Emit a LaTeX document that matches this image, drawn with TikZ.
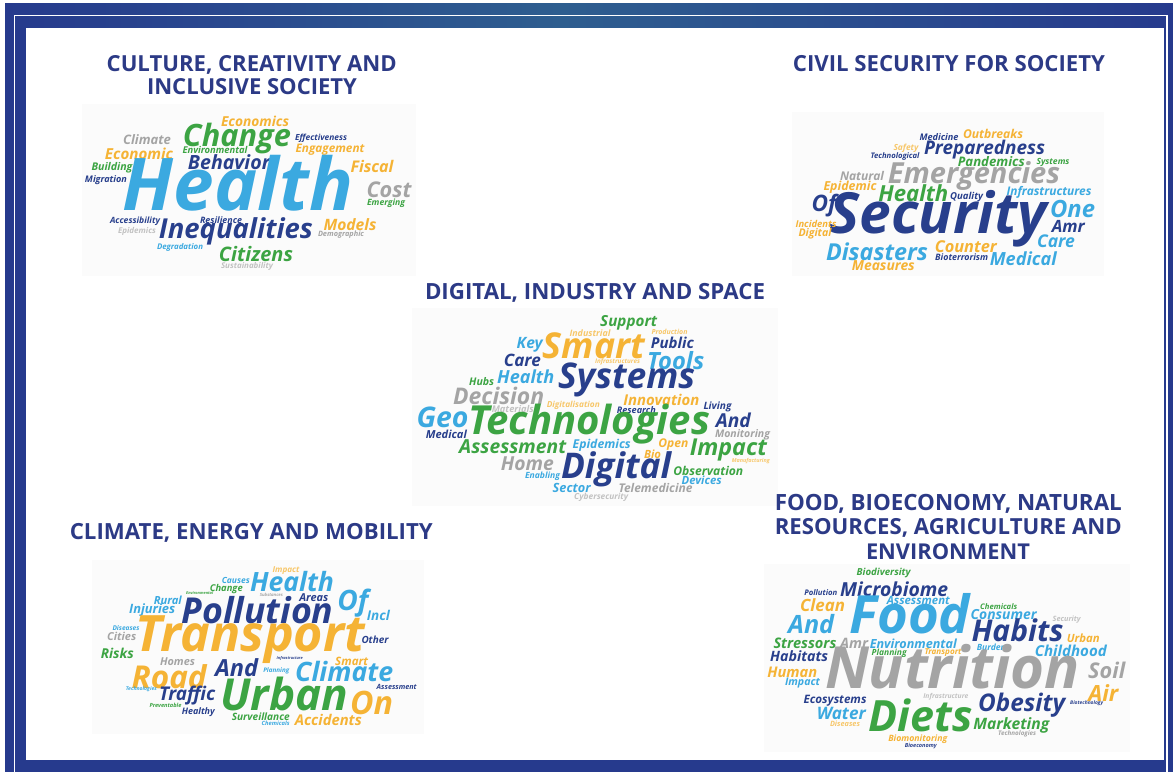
\documentclass[tikz,border=0pt]{standalone}
\usepackage{fontspec}
\usepackage{graphicx}
\newfontfamily\osans{Open Sans}
\definecolor{framec}{HTML}{263A8D}
\definecolor{framet}{HTML}{2E5E8F}
\definecolor{titlec}{HTML}{2C3A86}
\definecolor{cnavy}{HTML}{283F8C}
\definecolor{cblue}{HTML}{3BA9E0}
\definecolor{cgreen}{HTML}{3CA443}
\definecolor{corange}{HTML}{F5B335}
\definecolor{clorange}{HTML}{F7C76A}
\definecolor{cgray}{HTML}{A4A4A4}
\definecolor{clgray}{HTML}{C2C2C2}
\definecolor{cloudbg}{HTML}{FBFBFB}
\tikzset{
  cword/.style={inner sep=0pt,outer sep=0pt,anchor=center,font=\osans\bfseries\itshape},
  ctitle/.style={inner sep=0pt,outer sep=0pt,anchor=center,text=titlec,font=\osans\bfseries},
  cloudbox/.style={fill=cloudbg,draw=none},
}
% name, x, y, width, colour, word
\newcommand\cw[6]{\node[cword,text=#5] (#1) at (#2,#3) {\resizebox{#4pt}{!}{#6}};}
\newcommand\ct[5]{\node[ctitle] (#1) at (#2,#3) {\resizebox{#4pt}{!}{#5}};}
\begin{document}
\begin{tikzpicture}[x=1pt,y=-1pt]
\useasboundingbox (0,0) rectangle (1173,772);
% frame
\fill[framec] (5,3) rectangle (1173,772);
\shade[left color=framec,right color=framet] (5,3) rectangle (560,28);
\shade[left color=framet,right color=framec] (560,3) rectangle (1173,28);
\draw[white,line width=1.4pt] (14.5,772) -- (14.5,15.5) -- (1167,15.5) -- (1167,772);
\fill[white] (26,28) rectangle (1164,760);
% cloud backgrounds
\fill[cloudbox] (82,104) rectangle (416,276);
\fill[cloudbox] (792,112) rectangle (1104,276);
\fill[cloudbox] (412,308) rectangle (778,506);
\fill[cloudbox] (92,560) rectangle (424,734);
\fill[cloudbox] (764,564) rectangle (1130,752);

% ---------- Cloud 1 ----------
\ct{t1a}{251.7}{64.5}{290}{CULTURE, CREATIVITY AND}
\ct{t1b}{252}{87}{210}{INCLUSIVE SOCIETY}
\cw{a1}{255}{121}{68}{corange}{Economics}
\cw{a2}{237}{139}{108}{cgreen}{Change}
\cw{a3}{147}{140}{48}{cgray}{Climate}
\cw{a4}{321}{138.5}{52}{cnavy}{Effectiveness}
\cw{a5}{215}{150.3}{65}{cgreen}{Environmental}
\cw{a6}{330}{149.3}{69}{corange}{Engagement}
\cw{a7}{139}{154.3}{68}{corange}{Economic}
\cw{a8}{229}{162.5}{82}{cnavy}{Behavior}
\cw{a9}{372}{166}{43}{corange}{Fiscal}
\cw{a10}{112}{168}{41}{cgreen}{Building}
\cw{a11}{106}{180}{42}{cnavy}{Migration}
\cw{a12}{238}{183.7}{230}{cblue}{Health}
\cw{a13}{389}{190}{45}{cgray}{Cost}
\cw{a14}{386}{203}{38}{cgreen}{Emerging}
\cw{a15}{135}{221.7}{50}{cnavy}{Accessibility}
\cw{a16}{221}{220.5}{42}{cnavy}{Resilience}
\cw{a17}{350}{225}{53}{corange}{Models}
\cw{a18}{137}{231.7}{38}{clgray}{Epidemics}
\cw{a19}{236}{231.7}{154}{cnavy}{Inequalities}
\cw{a20}{341}{235}{46}{cgray}{Demographic}
\cw{a21}{180}{247.8}{46}{cblue}{Degradation}
\cw{a22}{256}{253.8}{74}{cgreen}{Citizens}
\cw{a23}{247}{266.3}{52}{clgray}{Sustainability}

% ---------- Cloud 2 ----------
\ct{t2}{949}{64}{312}{CIVIL SECURITY FOR SOCIETY}
\cw{b1}{939}{136.7}{39}{cnavy}{Medicine}
\cw{b2}{993}{133.7}{60}{corange}{Outbreaks}
\cw{b3}{906}{148}{25}{clorange}{Safety}
\cw{b4}{984.5}{149.2}{121}{cnavy}{Preparedness}
\cw{b5}{895}{156.7}{49}{cnavy}{Technological}
\cw{b6}{991.3}{161.3}{67}{cgreen}{Pandemics}
\cw{b7}{1053}{162.2}{33}{cgreen}{Systems}
\cw{b8}{862}{176.3}{44}{cgray}{Natural}
\cw{b9}{974}{176.3}{172}{cgray}{Emergencies}
\cw{b10}{850}{187.5}{53}{corange}{Epidemic}
\cw{b11}{913.3}{193.3}{70}{cgreen}{Health}
\cw{b12}{966.7}{197.5}{33}{cnavy}{Quality}
\cw{b13}{1049}{192.5}{85}{cblue}{Infrastructures}
\cw{b14}{824}{205.8}{25}{cnavy}{Of}
\cw{b15}{938.3}{219.2}{217}{cnavy}{Security}
\cw{b16}{1072.5}{209.2}{45}{cblue}{One}
\cw{b17}{816}{224.2}{41}{corange}{Incidents}
\cw{b18}{815}{233.3}{33}{corange}{Digital}
\cw{b19}{1068.3}{226.7}{33}{cnavy}{Amr}
\cw{b20}{1056}{240.8}{38}{cblue}{Care}
\cw{b21}{877}{251.7}{102}{cblue}{Disasters}
\cw{b22}{965.8}{246.7}{62}{corange}{Counter}
\cw{b23}{961.7}{257}{53}{cnavy}{Bioterrorism}
\cw{b24}{1023.3}{258.3}{67}{cblue}{Medical}
\cw{b25}{883.3}{265.8}{63}{corange}{Measures}

% ---------- Cloud 3 ----------
\ct{t3}{595}{293.3}{340}{DIGITAL, INDUSTRY AND SPACE}
\cw{c1}{628.7}{323.3}{57}{cgreen}{Support}
\cw{c2}{590}{333.3}{41}{clorange}{Industrial}
\cw{c3}{669.5}{332.2}{36}{clorange}{Production}
\cw{c4}{529.7}{345}{26}{cblue}{Key}
\cw{c5}{594}{345.8}{102}{corange}{Smart}
\cw{c6}{672.3}{342.5}{43}{cnavy}{Public}
\cw{c7}{522.3}{360.8}{37}{cnavy}{Care}
\cw{c8}{617.5}{362.2}{45}{clorange}{Infrastructures}
\cw{c9}{675.7}{360.5}{57}{cblue}{Tools}
\cw{c10}{481.7}{381.3}{25}{cgreen}{Hubs}
\cw{c11}{525.7}{376.7}{57}{cblue}{Health}
\cw{c12}{626.7}{380}{137}{cnavy}{Systems}
\cw{c13}{498.7}{395.8}{91}{cgray}{Decision}
\cw{c14}{661.3}{399.7}{76}{corange}{Innovation}
\cw{c15}{512.8}{409.3}{42}{clgray}{Materials}
\cw{c16}{573.3}{405.5}{53}{clorange}{Digitalisation}
\cw{c17}{636.3}{410}{39}{cnavy}{Research}
\cw{c18}{717.5}{407.2}{28}{cnavy}{Living}
\cw{c19}{442.5}{417.5}{52}{cblue}{Geo}
\cw{c20}{589}{424.2}{242}{cgreen}{Technologies}
\cw{c21}{733.3}{420.8}{35}{cnavy}{And}
\cw{c22}{446.3}{434.7}{41}{cnavy}{Medical}
\cw{c23}{742.5}{435}{55}{cgray}{Monitoring}
\cw{c24}{512.7}{446.7}{107}{cgreen}{Assessment}
\cw{c25}{601.7}{445.5}{58}{cblue}{Epidemics}
\cw{c26}{673.3}{445}{30}{corange}{Open}
\cw{c27}{728.3}{449.7}{77}{cgreen}{Impact}
\cw{c28}{652.5}{454.5}{17}{corange}{Bio}
\cw{c29}{750.8}{461.2}{38}{clorange}{Manufacturing}
\cw{c30}{527.3}{463.3}{53}{cgray}{Home}
\cw{c31}{616}{469.3}{110}{cnavy}{Digital}
\cw{c32}{708.3}{470.5}{70}{cgreen}{Observation}
\cw{c33}{542.5}{475.8}{35}{cblue}{Enabling}
\cw{c34}{701.7}{480}{40}{cblue}{Devices}
\cw{c35}{571.7}{488.3}{38}{cblue}{Sector}
\cw{c36}{655.5}{487.5}{74}{cgray}{Telemedicine}
\cw{c37}{601.2}{497.5}{54}{clgray}{Cybersecurity}

% ---------- Cloud 4 ----------
\ct{t4}{251.3}{532.5}{363}{CLIMATE, ENERGY AND MOBILITY}
\cw{d1}{286}{570.3}{27}{clorange}{Impact}
\cw{d2}{235.8}{580.5}{28}{cblue}{Causes}
\cw{d3}{292}{581.7}{84}{cblue}{Health}
\cw{d4}{226.3}{588.7}{33}{cgreen}{Change}
\cw{d5}{199.7}{593.3}{27}{cgreen}{Environmental}
\cw{d6}{271.3}{594.5}{23}{cgray}{Substances}
\cw{d7}{313.8}{597.7}{29}{cnavy}{Areas}
\cw{d8}{352.8}{603}{31}{cblue}{Of}
\cw{d9}{167.8}{600}{28}{cblue}{Rural}
\cw{d10}{152.2}{610.3}{46}{cblue}{Injuries}
\cw{d11}{257.5}{610}{152}{cnavy}{Pollution}
\cw{d12}{378.3}{615.8}{23}{cblue}{Incl}
\cw{d13}{126}{628.3}{27}{cblue}{Diseases}
\cw{d14}{121.7}{636.7}{29}{cgray}{Cities}
\cw{d15}{250.5}{639.2}{229}{corange}{Transport}
\cw{d16}{375}{639.5}{27}{cnavy}{Other}
\cw{d17}{117.3}{653}{33}{cgreen}{Risks}
\cw{d18}{177.5}{661.3}{35}{cgray}{Homes}
\cw{d19}{289.7}{658.8}{26}{cnavy}{Infrastructure}
\cw{d20}{351.7}{661.2}{33}{corange}{Smart}
\cw{d21}{169.2}{676.7}{75}{corange}{Road}
\cw{d22}{236.7}{667.5}{43}{cnavy}{And}
\cw{d23}{276.3}{671.2}{26}{cblue}{Planning}
\cw{d24}{344.2}{671.7}{98}{cblue}{Climate}
\cw{d25}{141.3}{688.8}{31}{cblue}{Technologies}
\cw{d26}{396.7}{686.7}{40}{cnavy}{Assessment}
\cw{d27}{187.2}{695.8}{56}{cnavy}{Traffic}
\cw{d28}{284.2}{694.2}{128}{cgreen}{Urban}
\cw{d29}{371.7}{702.5}{43}{corange}{On}
\cw{d30}{165.5}{705.8}{32}{cgreen}{Preventable}
\cw{d31}{198.3}{712}{33}{cnavy}{Healthy}
\cw{d32}{260.8}{716.7}{58}{cgreen}{Surveillance}
\cw{d33}{275.5}{723}{28}{cblue}{Chemicals}
\cw{d34}{328.3}{720}{67}{corange}{Accidents}

% ---------- Cloud 5 ----------
\ct{t5a}{948.3}{504.2}{347}{FOOD, BIOECONOMY, NATURAL}
\ct{t5b}{948.3}{527.5}{347}{RESOURCES, AGRICULTURE AND}
\ct{t5c}{948}{551.3}{164}{ENVIRONMENT}
\cw{e1}{883.7}{572.8}{54}{cgreen}{Biodiversity}
\cw{e2}{820.8}{593}{33}{cnavy}{Pollution}
\cw{e3}{894.2}{589.2}{108}{cnavy}{Microbiome}
\cw{e4}{918.3}{600.5}{63}{cblue}{Assessment}
\cw{e5}{822.5}{605}{45}{corange}{Clean}
\cw{e6}{909.7}{613.3}{121}{cblue}{Food}
\cw{e7}{998.7}{606.3}{37}{cgreen}{Chemicals}
\cw{e8}{1003.7}{614.2}{66}{cblue}{Consumer}
\cw{e9}{1066.7}{620}{28}{clgray}{Security}
\cw{e10}{811.2}{624.2}{46}{cblue}{And}
\cw{e11}{1017.5}{630}{92}{cnavy}{Habits}
\cw{e12}{1083.3}{638.7}{33}{corange}{Urban}
\cw{e13}{805}{643}{63}{cgreen}{Stressors}
\cw{e14}{854.2}{643.3}{28}{cgray}{Amr}
\cw{e15}{913.3}{643.5}{87}{cblue}{Environmental}
\cw{e16}{991.3}{647.5}{29}{cblue}{Burden}
\cw{e17}{1070.8}{650.8}{72}{cblue}{Childhood}
\cw{e18}{889.2}{653.3}{35}{cgreen}{Planning}
\cw{e19}{943}{653}{37}{corange}{Transport}
\cw{e20}{799.2}{655.8}{58}{cnavy}{Habitats}
\cw{e21}{952.5}{666.7}{255}{cgray}{Nutrition}
\cw{e22}{792.3}{672.5}{50}{corange}{Human}
\cw{e23}{1106.7}{670.8}{37}{cgray}{Soil}
\cw{e24}{802.5}{683.3}{35}{cblue}{Impact}
\cw{e25}{1103.3}{692.8}{30}{corange}{Air}
\cw{e26}{835}{700.8}{63}{cnavy}{Ecosystems}
\cw{e27}{945.8}{696.7}{45}{clgray}{Infrastructure}
\cw{e28}{1021.7}{705}{87}{cnavy}{Obesity}
\cw{e29}{1086.7}{703}{33}{cnavy}{Biotechnology}
\cw{e30}{841.3}{713.7}{49}{cblue}{Water}
\cw{e31}{920.5}{715}{104}{cgreen}{Diets}
\cw{e32}{1011.3}{725.7}{76}{cgreen}{Marketing}
\cw{e33}{845}{724}{30}{clorange}{Diseases}
\cw{e34}{1017.2}{733.7}{38}{cgray}{Technologies}
\cw{e35}{917.8}{739.2}{59}{corange}{Biomonitoring}
\cw{e36}{920.8}{745.8}{32}{cnavy}{Bioeconomy}
\end{tikzpicture}
\end{document}
